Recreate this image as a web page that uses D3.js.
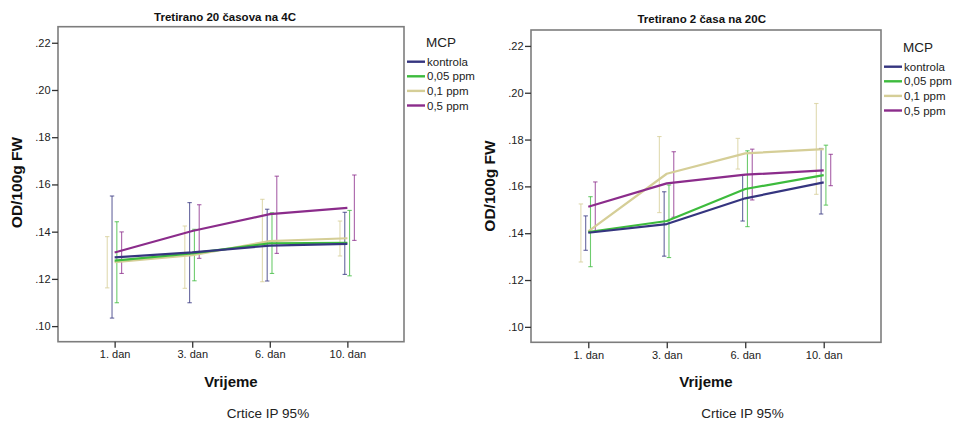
<!DOCTYPE html>
<html lang="en">
<head>
    <meta charset="UTF-8">
    <title>MCP</title>
    <script src="https://d3js.org/d3.v7.min.js"></script>
    <style>
        body { margin: 0; background: #fff; }
        svg text { font-family: "Liberation Sans", Arial, sans-serif; }
    </style>
</head>
<body>
    <svg width="956" height="422"></svg>

    <script>
        // categories
        const days = ["1. dan", "3. dan", "6. dan", "10. dan"];
        const groups = ["kontrola", "0,05 ppm", "0,1 ppm", "0,5 ppm"];
        // order of the dodged error bars around each day
        const dodgeOrder = ["0,1 ppm", "kontrola", "0,05 ppm", "0,5 ppm"];
        const yTicks = [0.10, 0.12, 0.14, 0.16, 0.18, 0.20, 0.22];

        // left chart: rows follow groups, columns follow days
        const coldMean = [
            [0.1291, 0.1312, 0.1341, 0.1348],
            [0.1277, 0.1308, 0.1351, 0.1353],
            [0.1271, 0.1300, 0.1360, 0.1372],
            [0.1312, 0.1403, 0.1474, 0.1501]
        ];
        const coldLow = [
            [0.1034, 0.1099, 0.1191, 0.1219],
            [0.1099, 0.1192, 0.1223, 0.1213],
            [0.1162, 0.1160, 0.1188, 0.1297],
            [0.1223, 0.1287, 0.1308, 0.1363]
        ];
        const coldHigh = [
            [0.1551, 0.1523, 0.1495, 0.1482],
            [0.1442, 0.1410, 0.1480, 0.1490],
            [0.1379, 0.1424, 0.1537, 0.1445],
            [0.1399, 0.1514, 0.1635, 0.1640]
        ];

        // right chart
        const warmMean = [
            [0.1402, 0.1439, 0.1549, 0.1617],
            [0.1405, 0.1452, 0.1589, 0.1648],
            [0.1408, 0.1654, 0.1741, 0.1759],
            [0.1513, 0.1613, 0.1650, 0.1668]
        ];
        const warmLow = [
            [0.1327, 0.1302, 0.1452, 0.1482],
            [0.1257, 0.1296, 0.1428, 0.1520],
            [0.1277, 0.1488, 0.1674, 0.1566],
            [0.1407, 0.1468, 0.1542, 0.1603]
        ];
        const warmHigh = [
            [0.1474, 0.1577, 0.1648, 0.1762],
            [0.1556, 0.1606, 0.1752, 0.1776],
            [0.1525, 0.1813, 0.1805, 0.1954],
            [0.1619, 0.1748, 0.1759, 0.1737]
        ];

        const colors = ["#35357f", "#3dbb3d", "#d5ce97", "#8b2c8b"];
        const font = "'Liberation Sans', Arial, sans-serif";

        const panels = [
            {
                title: "Tretirano 20 časova na 4C", mean: coldMean, low: coldLow, high: coldHigh,
                left: 58, right: 404, top: 26.7, bottom: 341.7,
                titleX: 225, titleY: 20.5, yLabelX: 21.5, yLabelY: 182.5,
                xLabelX: 231, noteX: 268, legendY: 61.7
            },
            {
                title: "Tretirano 2 časa na 20C", mean: warmMean, low: warmLow, high: warmHigh,
                left: 531, right: 881, top: 30, bottom: 342.3,
                titleX: 701.7, titleY: 23, yLabelX: 495, yLabelY: 186,
                xLabelX: 706, noteX: 742.5, legendY: 66.7
            }
        ];

        let svg = d3.select("svg");

        panels.forEach(function (p) {
            let g = svg.append("g");

            let x = d3.scalePoint()
                .domain(days)
                .range([p.left, p.right])
                .padding(0.73);

            let y = d3.scaleLinear()
                .domain([0.0934, 0.2268])
                .range([p.bottom, p.top]);

            let dodge = d3.scalePoint()
                .domain(dodgeOrder)
                .range([-7.4, 7]);

            // frame
            g.append("rect")
                .attr("x", p.left)
                .attr("y", p.top)
                .attr("width", p.right - p.left)
                .attr("height", p.bottom - p.top)
                .attr("fill", "none")
                .attr("stroke", "#7d7d7d")
                .attr("stroke-width", 1.6);

            // axes
            let yAxis = g.append("g")
                .attr("transform", "translate(" + p.left + ",0)")
                .call(d3.axisLeft(y)
                    .tickValues(yTicks)
                    .tickSize(6)
                    .tickPadding(1.5)
                    .tickFormat(function (d) { return d3.format(".2f")(d).replace(/^0/, ""); }));
            yAxis.select(".domain").remove();

            let xAxis = g.append("g")
                .attr("transform", "translate(0," + p.bottom + ")")
                .call(d3.axisBottom(x).tickSize(6).tickPadding(3));
            xAxis.select(".domain").remove();

            g.selectAll(".tick line").attr("stroke", "#333").attr("stroke-width", 1.3);
            g.selectAll(".tick text")
                .attr("fill", "#222")
                .style("font-family", font)
                .style("font-size", "11px");

            // error bars
            groups.forEach(function (grp, gi) {
                let col = colors[gi];
                let bars = g.append("g")
                    .attr("stroke", col)
                    .attr("stroke-opacity", 0.75)
                    .attr("stroke-width", 1.1);

                days.forEach(function (day, di) {
                    let cx = x(day) + dodge(grp);
                    let yl = y(p.low[gi][di]);
                    let yh = y(p.high[gi][di]);
                    bars.append("line")
                        .attr("x1", cx).attr("x2", cx)
                        .attr("y1", yl).attr("y2", yh);
                    [yl, yh].forEach(function (yy) {
                        bars.append("line")
                            .attr("x1", cx - 2.2).attr("x2", cx + 2.2)
                            .attr("y1", yy).attr("y2", yy);
                    });
                });
            });

            // mean lines
            let line = d3.line()
                .x(function (d, i) { return x(days[i]); })
                .y(function (d) { return y(d); });

            [2, 1, 0, 3].forEach(function (gi) {
                g.append("path")
                    .attr("d", line(p.mean[gi]))
                    .attr("fill", "none")
                    .attr("stroke", colors[gi])
                    .attr("stroke-width", 2.2)
                    .attr("stroke-linejoin", "round");
            });

            // titles
            g.append("text")
                .attr("x", p.titleX)
                .attr("y", p.titleY)
                .attr("text-anchor", "middle")
                .style("font-family", font)
                .style("font-size", "11.5px")
                .style("font-weight", "bold")
                .attr("fill", "#111")
                .text(p.title);

            g.append("text")
                .attr("transform", "translate(" + p.yLabelX + "," + p.yLabelY + ") rotate(-90)")
                .attr("text-anchor", "middle")
                .style("font-family", font)
                .style("font-size", "15.5px")
                .style("font-weight", "bold")
                .attr("fill", "#111")
                .text("OD/100g FW");

            g.append("text")
                .attr("x", p.xLabelX)
                .attr("y", 386.5)
                .attr("text-anchor", "middle")
                .style("font-family", font)
                .style("font-size", "15px")
                .style("font-weight", "bold")
                .attr("fill", "#111")
                .text("Vrijeme");

            g.append("text")
                .attr("x", p.noteX)
                .attr("y", 418)
                .attr("text-anchor", "middle")
                .style("font-family", font)
                .style("font-size", "13.5px")
                .attr("fill", "#222")
                .text("Crtice IP 95%");

            // legend
            let lg = g.append("g");
            lg.append("text")
                .attr("x", p.right + 37)
                .attr("y", p.legendY - 14.5)
                .attr("text-anchor", "middle")
                .style("font-family", font)
                .style("font-size", "13.5px")
                .attr("fill", "#222")
                .text("MCP");

            groups.forEach(function (grp, gi) {
                let ly = p.legendY + gi * 14.6;
                lg.append("line")
                    .attr("x1", p.right + 3).attr("x2", p.right + 21)
                    .attr("y1", ly).attr("y2", ly)
                    .attr("stroke", colors[gi])
                    .attr("stroke-width", 2.4);
                lg.append("text")
                    .attr("x", p.right + 23)
                    .attr("y", ly)
                    .attr("dy", "0.35em")
                    .style("font-family", font)
                    .style("font-size", "11.5px")
                    .attr("fill", "#222")
                    .text(grp);
            });
        });
    </script>
</body>
</html>
